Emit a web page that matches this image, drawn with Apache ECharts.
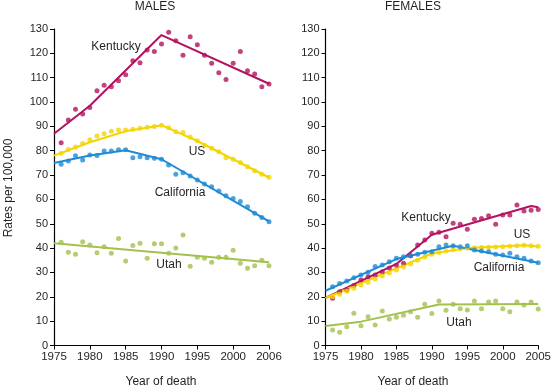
<!DOCTYPE html>
<html><head><meta charset="utf-8">
<script src="https://cdn.jsdelivr.net/npm/echarts@6/dist/echarts.min.js"></script>
<style>html,body{margin:0;padding:0;background:#fff}#c{width:554px;height:392px}</style>
</head><body><div id="c"></div>
<script>
// Years of observations (1976-2005)
const years = [1976,1977,1978,1979,1980,1981,1982,1983,1984,1985,1986,1987,1988,1989,1990,1991,1992,1993,1994,1995,1996,1997,1998,1999,2000,2001,2002,2003,2004,2005];
const xTicksLeft = ['1975','1980','1985','1990','1995','2000','2006'];
const xTicksRight = ['1975','1980','1985','1990','1995','2000','2005'];

// MALES observed rates
const ksMale = [83.3,92.6,97.0,95.1,97.8,104.6,106.9,106.3,108.7,111.2,117.0,116.1,121.4,120.8,123.8,128.7,125.2,119.2,126.8,123.5,119.2,115.9,112.0,109.3,115.9,120.8,112.9,111.5,106.3,107.4];
const usMale = [79,80.5,81.5,83,84.5,86,87,88,88.5,88.5,88.8,89.2,89.6,90,90.5,89.4,87.8,87.5,85.6,84.1,82.3,81,79.6,77.1,76.5,75.2,73.4,71.8,70.3,69.1];
const caMale = [74.4,75.8,77.9,76.2,78.2,78,79.9,79.9,80.4,80.4,77.1,77.5,77.1,76.9,76.5,74.1,70.3,71,69.6,68,66.3,65.2,63.5,61.5,60.4,59.1,57,54.3,52.6,50.8];
const utMale = [42.4,38.3,37.5,42.6,41.3,38.1,40.6,37.9,44.0,34.7,41.1,42.0,35.8,41.8,41.8,37.9,40.0,45.4,32.6,36.2,35.8,34.2,36.2,36.2,39.1,33.8,31.7,32.8,35.0,32.8];

// MALES fitted trends (joinpoints)
const ksMaleTrend = [[1975,87],[1980,98.5],[1990,127.5],[2005,107.5]];
const usMaleTrend = [[1975,78],[1980,83.5],[1985,88],[1990,90.5],[1995,84],[2005,69]];
const caMaleTrend = [[1975,75],[1980,78],[1985,80.2],[1990,76.5],[2005,51]];
const utMaleTrend = [[1975,42],[2005,34.2]];

// FEMALES observed rates
const ksFem = [19.4,22.1,22.8,24.6,26.9,28.2,29.0,30.3,31.8,33.0,33.8,36.9,41.3,43.3,46.1,46.5,44.7,50.2,49.8,47.8,51.9,52.2,53.3,49.8,53.6,53.6,57.7,55.2,55.6,55.9];
const usFem = [20,21,22.3,23.5,24.8,26,27.3,28.5,29.8,31,32.2,33.5,35,36.3,37.5,38.2,38.8,39.3,39.7,40,40.2,40.3,40.4,40.5,40.6,40.8,41,41.2,41,40.8];
const caFem = [24.1,25.5,26.5,27.8,29,30.1,32.4,33.1,34.4,35.8,36.5,36.9,37.5,38.3,38.5,40.6,41.3,41,40.6,41,39.2,38.8,38.5,37.5,37.2,37.9,36.5,35.8,34.7,34];
const utFem = [6.4,5.4,7.7,13.2,8.1,11.8,8.4,14.2,10.9,11.6,12.4,13.9,11.6,16.9,13.1,18.3,14.5,16.9,15.1,14.6,18.3,15.1,17.9,18.3,15.1,13.9,17.9,16.6,17.9,15.0];

// FEMALES fitted trends
const ksFemTrend = [[1975,19.5],[1985,33.5],[1990,45.5],[2004,57.3],[2005,56.8]];
const usFemTrend = [[1975,19.5],[1990,37.8],[1995,40],[2003,41.2],[2005,40.7]];
const caFemTrend = [[1975,22.5],[1985,35.5],[1993,41],[2005,34]];
const utFemTrend = [[1975,8],[1980,9.8],[1991,16.8],[2005,17]];

const COL = {ks:'#b3125f', us:'#f4d500', ca:'#1d8bd6', ut:'#a2c14d'};
const FONT = 'Liberation Sans, Arial, Helvetica, sans-serif';
const TXT = '#231f20';

const pairs = arr => years.map((y,i)=>[y,arr[i]]);

function xAxis(idx, labels){
  return {type:'value', gridIndex:idx, min:1975, max:2005, interval:5,
    axisLine:{show:true, onZero:false, lineStyle:{color:'#000', width:1.2}},
    axisTick:{show:true, length:4, lineStyle:{color:'#000'}},
    axisLabel:{color:TXT, fontFamily:FONT, fontSize:11.5, margin:5,
      formatter: v => labels[Math.round((v-1975)/5)]},
    splitLine:{show:false}};
}
function yAxis(idx){
  return {type:'value', gridIndex:idx, min:0, max:130, interval:10,
    axisLine:{show:true, lineStyle:{color:'#000', width:1.2}},
    axisTick:{show:true, length:4, lineStyle:{color:'#000'}},
    axisLabel:{color:TXT, fontFamily:FONT, fontSize:11, margin:6},
    splitLine:{show:false}};
}
function pts(data, color, idx){
  return {type:'scatter', xAxisIndex:idx, yAxisIndex:idx, data:pairs(data), symbolSize:5,
    itemStyle:{color:color}, clip:false, silent:true, z:3};
}
function trend(data, color, idx){
  return {type:'line', xAxisIndex:idx, yAxisIndex:idx, data:data, showSymbol:false, symbol:'none',
    lineStyle:{color:color, width:2}, clip:false, silent:true, z:2};
}
function lbl(x,y,t){
  return {type:'text', x:x, y:y, style:{text:t, fill:TXT, font:'12px '+FONT, textAlign:'center', textVerticalAlign:'middle'}};
}

const chart = echarts.init(document.getElementById('c'), null, {renderer:'canvas'});
chart.setOption({
  animation:false,
  backgroundColor:'#fff',
  grid:[{left:54, top:29, width:215, height:316.5},{left:325.5, top:29, width:214.5, height:316.5}],
  xAxis:[xAxis(0,xTicksLeft), xAxis(1,xTicksRight)],
  yAxis:[yAxis(0), yAxis(1)],
  series:[
    trend(ksMaleTrend,COL.ks,0), trend(usMaleTrend,COL.us,0), trend(caMaleTrend,COL.ca,0), trend(utMaleTrend,COL.ut,0),
    pts(ksMale,COL.ks,0), pts(usMale,COL.us,0), pts(caMale,COL.ca,0), pts(utMale,COL.ut,0),
    trend(ksFemTrend,COL.ks,1), trend(usFemTrend,COL.us,1), trend(caFemTrend,COL.ca,1), trend(utFemTrend,COL.ut,1),
    pts(ksFem,COL.ks,1), pts(usFem,COL.us,1), pts(caFem,COL.ca,1), pts(utFem,COL.ut,1)
  ],
  graphic:[
    lbl(155,7,'MALES'), lbl(413,7,'FEMALES'),
    lbl(161,382,'Year of death'), lbl(413,382,'Year of death'),
    {type:'text', x:9, y:188, rotation:Math.PI/2, style:{text:'Rates per 100,000', fill:TXT, font:'12px '+FONT, textAlign:'center', textVerticalAlign:'middle'}},
    lbl(116,47,'Kentucky'), lbl(197,152,'US'), lbl(180,193,'California'), lbl(169,265,'Utah'),
    lbl(426,218,'Kentucky'), lbl(522,235,'US'), lbl(499,268,'California'), lbl(459,323,'Utah')
  ]
});
</script></body></html>
